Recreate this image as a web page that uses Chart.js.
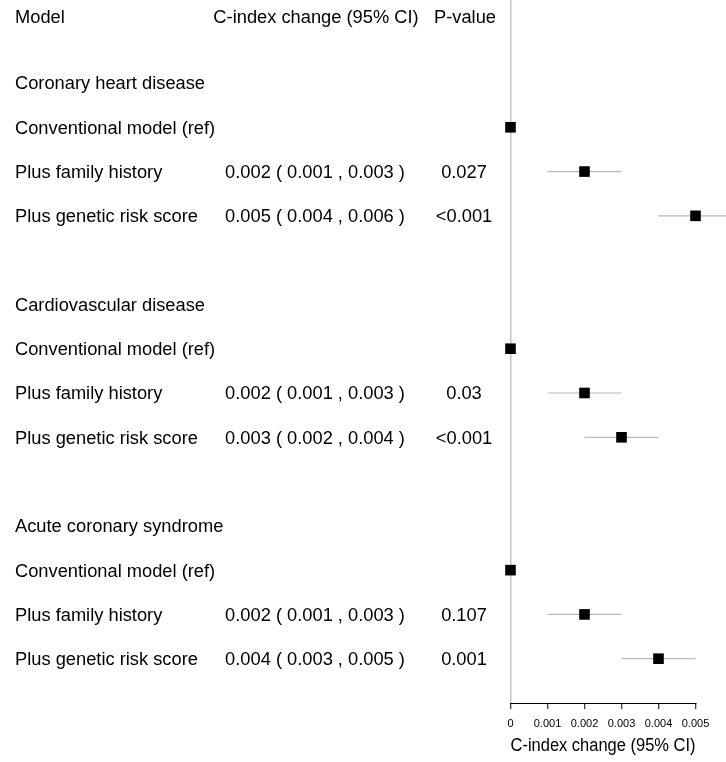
<!DOCTYPE html>
<html>
<head>
    <title>C-index change forest plot</title>
    <script src="https://cdn.jsdelivr.net/npm/chart.js@4.4.1/dist/chart.umd.min.js"></script>
    <style>
        body {
            margin: 0;
            background: #fff;
        }
        .chart-container {
            position: relative;
            width: 726px;
            height: 762px;
        }
    </style>
</head>
<body>
    <div class="chart-container">
        <canvas id="forestChart"></canvas>
    </div>

    <script>
        // table headers
        const headers = ['Model', 'C-index change (95% CI)', 'P-value'];
        const headerRow = -1.5;

        // one entry per table row (row index = position in array)
        const rowLabels = [
            'Coronary heart disease',
            'Conventional model (ref)',
            'Plus family history',
            'Plus genetic risk score',
            '',
            'Cardiovascular disease',
            'Conventional model (ref)',
            'Plus family history',
            'Plus genetic risk score',
            '',
            'Acute coronary syndrome',
            'Conventional model (ref)',
            'Plus family history',
            'Plus genetic risk score'
        ];
        const ciLabels = [
            '', '', '0.002 ( 0.001 , 0.003 )', '0.005 ( 0.004 , 0.006 )', '',
            '', '', '0.002 ( 0.001 , 0.003 )', '0.003 ( 0.002 , 0.004 )', '',
            '', '', '0.002 ( 0.001 , 0.003 )', '0.004 ( 0.003 , 0.005 )'
        ];
        const pValues = [
            '', '', '0.027', '<0.001', '',
            '', '', '0.03', '<0.001', '',
            '', '', '0.107', '0.001'
        ];
        const estimates = [null, 0, 0.002, 0.005, null, null, 0, 0.002, 0.003, null, null, 0, 0.002, 0.004];
        const lower     = [null, null, 0.001, 0.004, null, null, null, 0.001, 0.002, null, null, null, 0.001, 0.003];
        const upper     = [null, null, 0.003, 0.006, null, null, null, 0.003, 0.004, null, null, null, 0.003, 0.005];

        const xTicks = [0, 0.001, 0.002, 0.003, 0.004, 0.005];
        const xTickLabels = ['0', '0.001', '0.002', '0.003', '0.004', '0.005'];

        const FONT = '"Liberation Sans", Arial, sans-serif';

        // squares
        const pointData = [];
        estimates.forEach((v, i) => {
            if (v !== null) pointData.push({ x: v, y: i });
        });

        // confidence interval segments, one small line dataset each
        const ciDatasets = [];
        lower.forEach((lo, i) => {
            if (lo === null) return;
            ciDatasets.push({
                type: 'line',
                data: [{ x: lo, y: i }, { x: upper[i], y: i }],
                borderColor: '#b8b8b8',
                borderWidth: 1.2,
                pointRadius: 0,
                clip: false,
                order: 2
            });
        });

        const tablePlugin = {
            id: 'tableText',
            afterDraw(chart) {
                const ctx = chart.ctx;
                const y = chart.scales.y;
                ctx.save();
                ctx.fillStyle = '#000';
                ctx.font = '18.3px ' + FONT;
                ctx.textBaseline = 'alphabetic';
                const off = 6.4;

                const hy = y.getPixelForValue(headerRow) + off;
                ctx.textAlign = 'left';
                ctx.fillText(headers[0], 15, hy);
                ctx.textAlign = 'center';
                ctx.fillText(headers[1], 316, hy);
                ctx.fillText(headers[2], 465, hy);

                rowLabels.forEach((label, i) => {
                    const py = y.getPixelForValue(i) + off;
                    ctx.textAlign = 'left';
                    ctx.fillText(label, 15, py);
                    ctx.textAlign = 'center';
                    ctx.fillText(ciLabels[i], 315, py);
                    ctx.fillText(pValues[i], 464, py);
                });
                ctx.restore();
            }
        };

        const ctx = document.getElementById('forestChart').getContext('2d');
        new Chart(ctx, {
            type: 'scatter',
            data: {
                datasets: [{
                    data: pointData,
                    pointStyle: 'rect',
                    pointRadius: 7.5,
                    pointBorderWidth: 0,
                    backgroundColor: '#000',
                    borderColor: '#000',
                    clip: false,
                    order: 0
                }].concat(ciDatasets)
            },
            options: {
                responsive: true,
                maintainAspectRatio: false,
                animation: false,
                layout: {
                    autoPadding: false,
                    padding: { left: 510.5, right: 30.5, top: 0, bottom: 0 }
                },
                plugins: {
                    legend: { display: false },
                    tooltip: { enabled: false }
                },
                scales: {
                    x: {
                        type: 'linear',
                        min: 0,
                        max: 0.005,
                        afterBuildTicks(scale) {
                            scale.ticks = xTicks.map(v => ({ value: v }));
                        },
                        afterFit(scale) {
                            scale.height = 59;
                        },
                        ticks: {
                            color: '#000',
                            font: { family: FONT, size: 11 },
                            padding: 8,
                            maxRotation: 0,
                            autoSkip: false,
                            callback: (v, i) => xTickLabels[i]
                        },
                        grid: {
                            drawOnChartArea: true,
                            color: c => (c.tick && c.tick.value === 0) ? '#c4c4c4' : 'rgba(0,0,0,0)',
                            lineWidth: 1.5,
                            tickColor: '#000',
                            tickWidth: 1,
                            tickLength: 6
                        },
                        border: { display: true, color: '#000', width: 1 },
                        title: {
                            display: true,
                            text: 'C-index change (95% CI)',
                            color: '#000',
                            font: { family: FONT, size: 18.3 },
                            padding: { top: 0, bottom: 5 }
                        }
                    },
                    y: {
                        type: 'linear',
                        display: false,
                        reverse: true,
                        min: -1.874,
                        max: 14
                    }
                }
            },
            plugins: [tablePlugin]
        });
    </script>
</body>
</html>
